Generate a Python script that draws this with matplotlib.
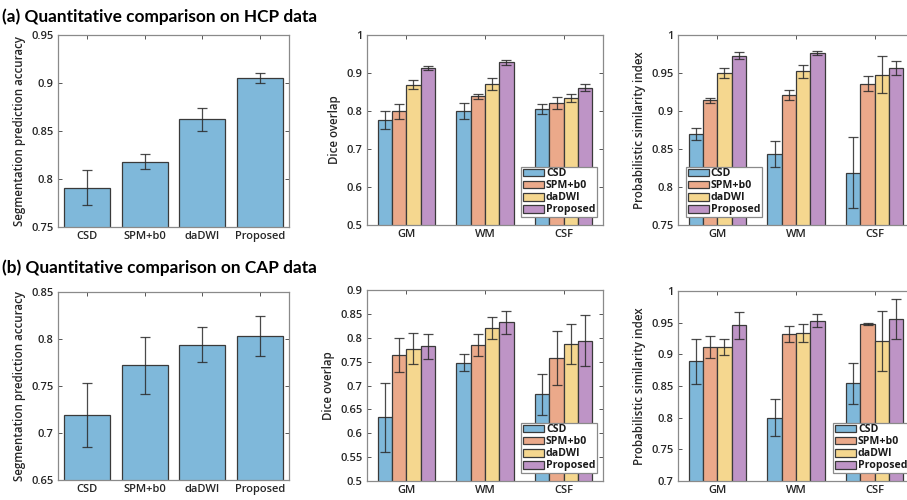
import numpy as np
import matplotlib
matplotlib.use("Agg")
import matplotlib.pyplot as plt

plt.rcParams['font.family'] = ['Open Sans', 'DejaVu Sans']

methods = ["CSD", "SPM+b0", "daDWI", "Proposed"]
tissues = ["GM", "WM", "CSF"]

# (a) HCP
hcp_acc = [0.791, 0.818, 0.862, 0.905]
hcp_acc_err = [0.018, 0.008, 0.012, 0.005]
hcp_dice = {  # per method, values for GM, WM, CSF
    "CSD": [0.776, 0.801, 0.806],
    "SPM+b0": [0.799, 0.839, 0.820],
    "daDWI": [0.869, 0.870, 0.835],
    "Proposed": [0.913, 0.928, 0.861],
}
hcp_dice_err = {
    "CSD": [0.023, 0.021, 0.013],
    "SPM+b0": [0.019, 0.007, 0.016],
    "daDWI": [0.012, 0.016, 0.010],
    "Proposed": [0.006, 0.007, 0.009],
}
hcp_psi = {
    "CSD": [0.870, 0.843, 0.819],
    "SPM+b0": [0.914, 0.921, 0.936],
    "daDWI": [0.950, 0.952, 0.948],
    "Proposed": [0.973, 0.976, 0.957],
}
hcp_psi_err = {
    "CSD": [0.008, 0.017, 0.047],
    "SPM+b0": [0.0035, 0.006, 0.010],
    "daDWI": [0.006, 0.0085, 0.024],
    "Proposed": [0.004, 0.0025, 0.009],
}

# (b) CAP
cap_acc = [0.719, 0.772, 0.794, 0.803]
cap_acc_err = [0.034, 0.030, 0.019, 0.021]
cap_dice = {
    "CSD": [0.633, 0.748, 0.682],
    "SPM+b0": [0.764, 0.784, 0.758],
    "daDWI": [0.777, 0.821, 0.787],
    "Proposed": [0.782, 0.832, 0.794],
}
cap_dice_err = {
    "CSD": [0.073, 0.017, 0.043],
    "SPM+b0": [0.036, 0.023, 0.057],
    "daDWI": [0.033, 0.023, 0.041],
    "Proposed": [0.026, 0.024, 0.054],
}
cap_psi = {
    "CSD": [0.889, 0.800, 0.854],
    "SPM+b0": [0.912, 0.932, 0.948],
    "daDWI": [0.912, 0.934, 0.921],
    "Proposed": [0.946, 0.953, 0.956],
}
cap_psi_err = {
    "CSD": [0.036, 0.029, 0.032],
    "SPM+b0": [0.017, 0.013, 0.001],
    "daDWI": [0.013, 0.014, 0.047],
    "Proposed": [0.021, 0.010, 0.031],
}

colors = ["#7fb8da", "#eba98a", "#f5d78f", "#be94c6"]
edge = "#3a3a3a"
ecol = "#2a2a2a"
tick_color = "#262626"

W, H = 907, 500
fig = plt.figure(figsize=(W / 100, H / 100), dpi=100)


def ax_px(l, t, r, b):
    return fig.add_axes([l / W, 1 - b / H, (r - l) / W, (b - t) / H])


def style(ax, ylim, yticks, ylabel):
    ax.set_ylim(*ylim)
    ax.set_yticks(yticks)
    ax.set_yticklabels(["%g" % v for v in yticks])
    ax.tick_params(direction='in', length=3, width=0.7, color='#555555',
                   top=True, right=True, labelsize=8, labelcolor=tick_color, pad=3)
    for lab in ax.get_xticklabels() + ax.get_yticklabels():
        lab.set_fontweight('semibold')
    for s in ax.spines.values():
        s.set_color('#8a8a8a')
        s.set_linewidth(0.9)
    ax.set_ylabel(ylabel, fontsize=8.3, fontweight='semibold', color=tick_color, labelpad=4)


def single(ax, vals, errs, ylim, yticks, ylabel):
    x = np.arange(1, len(methods) + 1)
    ax.bar(x, vals, width=0.8, color=colors[0], edgecolor=edge, linewidth=0.9, zorder=2)
    ax.errorbar(x, vals, yerr=errs, fmt='none', ecolor=ecol, elinewidth=0.9,
                capsize=3.5, capthick=0.9, alpha=0.85, zorder=3)
    ax.set_xlim(0.5, len(methods) + 0.5)
    ax.set_xticks(x)
    ax.set_xticklabels(methods)
    style(ax, ylim, yticks, ylabel)


def grouped(ax, data, errs, ylim, yticks, ylabel, legloc, bbox):
    x = np.arange(1, len(tissues) + 1)
    w = 0.727 / len(methods)
    for i, m in enumerate(methods):
        xi = x + (i - 1.5) * w
        ax.bar(xi, data[m], width=w, color=colors[i], edgecolor=edge,
               linewidth=0.9, zorder=2, label=m)
        ax.errorbar(xi, data[m], yerr=errs[m], fmt='none', ecolor=ecol, elinewidth=0.9,
                    capsize=3.5, capthick=0.9, alpha=0.85, zorder=3)
    ax.set_xlim(0.5, len(tissues) + 0.5)
    ax.set_xticks(x)
    ax.set_xticklabels(tissues)
    style(ax, ylim, yticks, ylabel)
    leg = ax.legend(loc=legloc, bbox_to_anchor=bbox, bbox_transform=fig.transFigure,
                    prop={'size': 7.6, 'weight': 'bold'}, handlelength=2.0, handleheight=0.75,
                    labelspacing=0.1, borderpad=0.15, handletextpad=0.2,
                    borderaxespad=0, fancybox=False, framealpha=1)
    leg.get_frame().set_edgecolor('#8a8a8a')
    leg.get_frame().set_linewidth(0.9)
    for t in leg.get_texts():
        t.set_color('#1a1a1a')


# Row (a)
ax1 = ax_px(58, 35, 289, 227)
single(ax1, hcp_acc, hcp_acc_err, (0.75, 0.95), np.round(np.arange(0.75, 0.951, 0.05), 2),
       "Segmentation prediction accuracy")
ax2 = ax_px(367, 35, 603, 225)
grouped(ax2, hcp_dice, hcp_dice_err, (0.5, 1.0), np.round(np.arange(0.5, 1.001, 0.1), 2),
        "Dice overlap", 'lower right', (597 / W, 1 - 217 / H))
ax3 = ax_px(678, 35, 914, 225)
grouped(ax3, hcp_psi, hcp_psi_err, (0.75, 1.0), np.round(np.arange(0.75, 1.001, 0.05), 2),
        "Probabilistic similarity index", 'lower left', (686 / W, 1 - 217 / H))

# Row (b)
ax4 = ax_px(58, 292, 289, 480)
single(ax4, cap_acc, cap_acc_err, (0.65, 0.85), np.round(np.arange(0.65, 0.851, 0.05), 2),
       "Segmentation prediction accuracy")
ax5 = ax_px(367, 290, 603, 481)
grouped(ax5, cap_dice, cap_dice_err, (0.5, 0.9), np.round(np.arange(0.5, 0.901, 0.05), 2),
        "Dice overlap", 'lower right', (597 / W, 1 - 473 / H))
ax6 = ax_px(678, 291, 914, 481)
grouped(ax6, cap_psi, cap_psi_err, (0.7, 1.0), np.round(np.arange(0.7, 1.001, 0.05), 2),
        "Probabilistic similarity index", 'lower right', (909 / W, 1 - 473 / H))

fig.text(2 / W, 1 - 22 / H, "(a) Quantitative comparison on HCP data", fontsize=12.4,
         fontweight='bold', family=['Lato', 'DejaVu Sans'], va='baseline', ha='left', color='black')
fig.text(2 / W, 1 - 273 / H, "(b) Quantitative comparison on CAP data", fontsize=12.4,
         fontweight='bold', family=['Lato', 'DejaVu Sans'], va='baseline', ha='left', color='black')

fig.savefig("out.png", dpi=100)
